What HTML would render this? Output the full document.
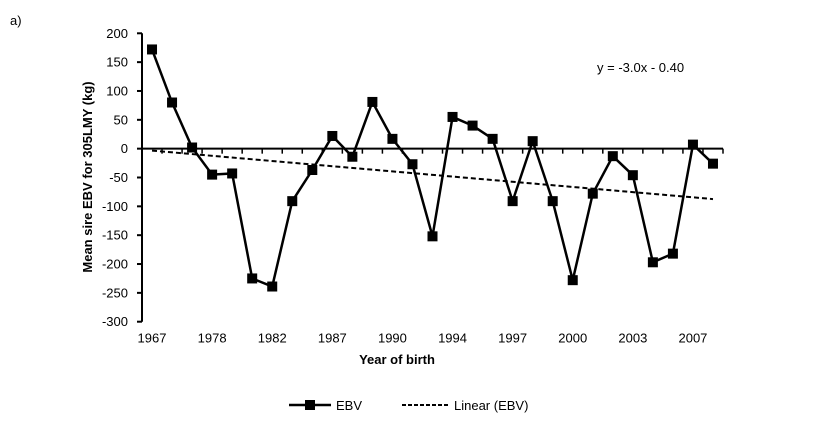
<!DOCTYPE html>
<html><head><style>
body{margin:0;background:#fff;}
svg{font-family:"Liberation Sans",Arial,sans-serif;}
</style></head><body>
<svg width="823" height="431" id="chart">
<text x="10" y="25" font-size="13">a)</text>
<text x="597" y="72" font-size="13">y = -3.0x - 0.40</text>
<text transform="translate(92,177) rotate(-90)" text-anchor="middle" font-size="13" font-weight="bold">Mean sire EBV for 305LMY (kg)</text>
<text x="397" y="364" text-anchor="middle" font-size="13" font-weight="bold">Year of birth</text>
<g id="axes"></g>
<g id="marks"></g>
<g>
 <line x1="289" y1="405" x2="331" y2="405" stroke="#000" stroke-width="2.5"/>
 <rect x="305" y="400" width="10" height="10" fill="#000"/>
 <text x="336" y="410" font-size="13">EBV</text>
 <line x1="402" y1="405" x2="450" y2="405" stroke="#000" stroke-width="2" stroke-dasharray="4,2"/>
 <text x="454" y="410" font-size="13">Linear (EBV)</text>
</g>
</svg>
<script>
const categories=["1967","","","1978","","","1982","","","1987","","","1990","","","1994","","","1997","","","2000","","","2003","","","2007",""];
const ebvValues=[172,80,2,-45,-43,-225,-239,-91,-37,22,-14,81,17,-27,-152,55,40,17,-91,13,-91,-228,-78,-13,-46,-197,-182,7,-26];
const yTicks=[200,150,100,50,0,-50,-100,-150,-200,-250,-300];
const trendSlope=-3.0, trendIntercept=-0.40;

const NS="http://www.w3.org/2000/svg";
const x0=142,x1=723,yTop=33.3,yBot=321.7,vMax=200,vMin=-300;
const n=categories.length;
const step=(x1-x0)/n;
function xPos(i){return x0+step*(i+0.5);}
function yPos(v){return yTop+(vMax-v)/(vMax-vMin)*(yBot-yTop);}
function mk(tag,attrs,parent){const e=document.createElementNS(NS,tag);for(const k in attrs)e.setAttribute(k,attrs[k]);parent.appendChild(e);return e;}
const axes=document.getElementById('axes'),marks=document.getElementById('marks');

const ya=mk('line',{x1:x0,y1:yTop,x2:x0,y2:yBot,stroke:'#000','stroke-width':2},axes);


yTicks.forEach(v=>{
 const y=yPos(v);
 const t=mk('line',{x1:x0-5,y1:y,x2:x0,y2:y,stroke:'#000','stroke-width':2},axes);
 
 
 const l=mk('text',{x:x0-14,y:y+4.5,'text-anchor':'end','font-size':13},axes);
 l.textContent=v;
 
 
});
const xa=mk('line',{x1:x0,y1:yPos(0),x2:x1,y2:yPos(0),stroke:'#000','stroke-width':2},axes);


for(let i=0;i<=n;i++){
 const x=x0+step*i;
 const t=mk('line',{x1:x,y1:yPos(0),x2:x,y2:yPos(0)+5,stroke:'#000','stroke-width':1.5},axes);
 
 
}
categories.forEach((c,i)=>{
 if(!c)return;
 const l=mk('text',{x:xPos(i),y:yBot+21,'text-anchor':'middle','font-size':13},axes);
 l.textContent=c;
 
 
});
const tl=mk('line',{x1:xPos(0),y1:yPos(trendSlope*1+trendIntercept),x2:xPos(n-1),y2:yPos(trendSlope*n+trendIntercept),stroke:'#000','stroke-width':2,'stroke-dasharray':'5,3'},marks);


const pl=mk('polyline',{points:ebvValues.map((v,i)=>xPos(i)+','+yPos(v)).join(' '),fill:'none',stroke:'#000','stroke-width':2.5},marks);


ebvValues.forEach((v,i)=>{
 const r=mk('rect',{x:xPos(i)-5,y:yPos(v)-5,width:10,height:10,fill:'#000'},marks);
 
 
});
</script>
</body></html>
